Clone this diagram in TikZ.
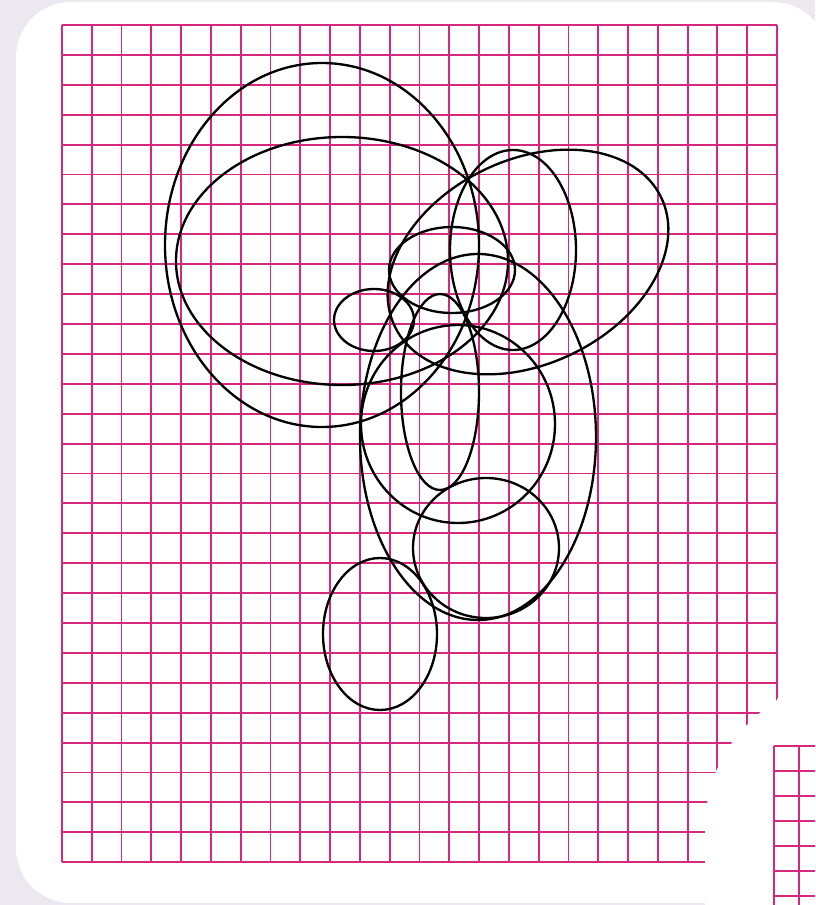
\documentclass[tikz,border=0pt]{standalone}
\usepackage{tikz}
\usetikzlibrary{calc}
\definecolor{lavender}{RGB}{237,231,240}
\definecolor{gridpink}{RGB}{214,40,124}

\begin{document}
\begin{tikzpicture}[x=0.3mm,y=-0.3mm,
    gridline/.style={gridpink,line width=0.55mm},
    oval/.style={black,line width=0.7mm}]
  \useasboundingbox (0,0) rectangle (815,905);
  % Card
  \fill[lavender] (0,0) rectangle (815,905);
  \fill[white,rounded corners=16.5mm] (16,2) rectangle (828,903);
  \fill[white] (705,880) rectangle (815,905);
  % Grid
  \foreach \i in {0,...,24}{
    \draw[gridline] ({62+29.79*\i},25) -- ({62+29.79*\i},862);
  }
  \foreach \j in {0,...,28}{
    \draw[gridline] (62,{25+29.9*\j}) -- (777,{25+29.9*\j});
  }
  % Curl
  \fill[white] (781,690) -- (777,700) .. controls (735,728) and (705,770) .. (705,830)
    -- (705,866) -- (781,866) -- cycle;
  \foreach \i in {0,1}{
    \draw[gridline] ({774+25*\i},746) -- ({774+25*\i},905);
  }
  \foreach \j in {0,...,6}{
    \draw[gridline] (774,{746+25*\j}) -- (815,{746+25*\j});
  }
  % Ovals
  \coordinate (cA) at (322,245);
  \coordinate (cB) at (342,261);
  \coordinate (cC) at (528,262);
  \coordinate (cD) at (513,250);
  \coordinate (cE) at (452,270);
  \coordinate (cF) at (374,320);
  \coordinate (cG) at (478,437);
  \coordinate (cH) at (440,392);
  \coordinate (cI) at (458,424);
  \coordinate (cJ) at (486,548);
  \coordinate (cK) at (380,634);
  \draw[oval] (cA) ellipse [x radius=157, y radius=182];
  \draw[oval] (cB) ellipse [x radius=166, y radius=124];
  \draw[oval,rotate around={26:(cC)}] (cC) ellipse [x radius=148, y radius=102];
  \draw[oval] (cD) ellipse [x radius=63, y radius=100];
  \draw[oval] (cE) ellipse [x radius=63, y radius=43];
  \draw[oval] (cF) ellipse [x radius=40, y radius=31];
  \draw[oval] (cG) ellipse [x radius=118, y radius=183];
  \draw[oval] (cH) ellipse [x radius=39, y radius=98];
  \draw[oval] (cI) ellipse [x radius=97, y radius=99];
  \draw[oval] (cJ) ellipse [x radius=73, y radius=70];
  \draw[oval] (cK) ellipse [x radius=57, y radius=76];
\end{tikzpicture}
\end{document}
